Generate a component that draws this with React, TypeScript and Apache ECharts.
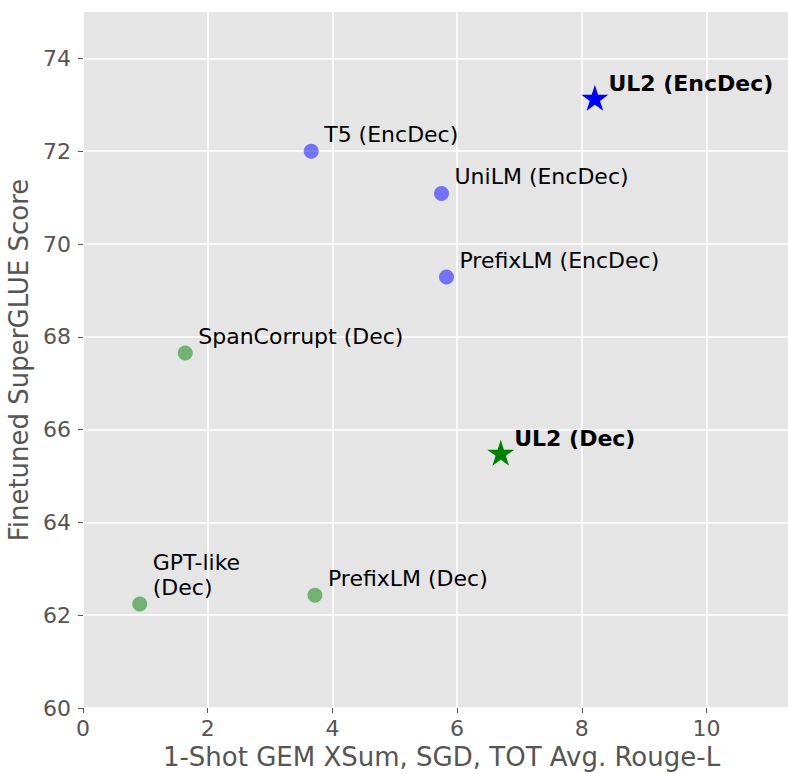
import React, { useEffect, useRef } from "react";
import * as echarts from "echarts";

// Encoder-decoder baselines (blue dots)
const encDecNames = ["T5 (EncDec)", "UniLM (EncDec)", "PrefixLM (EncDec)"];
const encDecX = [3.66, 5.75, 5.83];
const encDecY = [72.0, 71.09, 69.29];

// Decoder-only baselines (green dots)
const decNames = ["SpanCorrupt (Dec)", "GPT-like\n(Dec)", "PrefixLM (Dec)"];
const decX = [1.64, 0.91, 3.72];
const decY = [67.65, 62.24, 62.43];

// UL2 stars
const ul2EncDecName = "UL2 (EncDec)";
const ul2EncDec = [8.21, 73.12];
const ul2DecName = "UL2 (Dec)";
const ul2Dec = [6.7, 65.47];

const xTicks = [0, 2, 4, 6, 8, 10];
const yTicks = [60, 62, 64, 66, 68, 70, 72, 74];

const FONT = "DejaVu Sans";
const STAR =
  "path://M0,-100L22.45,-30.9L95.11,-30.9L36.33,11.8L58.78,80.9L0,38.2L-58.78,80.9L-36.33,11.8L-95.11,-30.9L-22.45,-30.9Z";

export default function App() {
  const ref = useRef<HTMLDivElement>(null);

  useEffect(() => {
    if (!ref.current) return;
    const chart = echarts.init(ref.current, undefined, { renderer: "svg" });

    const dotLabel = {
      show: true,
      formatter: "{b}",
      position: [20.5, 3.5],
      align: "left",
      verticalAlign: "bottom",
      fontFamily: FONT,
      fontSize: 22,
      lineHeight: 25,
      color: "#000",
    };
    const starLabel = {
      show: true,
      formatter: "{b}",
      position: [27, 11],
      align: "left",
      verticalAlign: "bottom",
      fontFamily: FONT,
      fontSize: 22,
      lineHeight: 25,
      fontWeight: "bold",
      color: "#000",
    };

    const axisCommon = {
      type: "value",
      nameLocation: "middle",
      nameTextStyle: { fontFamily: FONT, fontSize: 26, color: "#555555" },
      axisLine: { show: false },
      splitLine: { show: true, lineStyle: { color: "#ffffff", width: 1.5 } },
    };

    const option: any = {
      animation: false,
      backgroundColor: "#fff",
      grid: {
        left: 83,
        top: 12,
        right: 0,
        bottom: 66,
        show: true,
        backgroundColor: "#E5E5E5",
        borderWidth: 0,
        containLabel: false,
        outerBoundsMode: "none",
      },
      xAxis: {
        ...axisCommon,
        min: 0,
        max: 11.5,
        interval: 2,
        name: "1-Shot GEM XSum, SGD, TOT Avg. Rouge-L",
        nameGap: 36,
        axisTick: { show: true, length: 5, customValues: xTicks, lineStyle: { color: "#555555" } },
        axisLabel: {
          fontFamily: FONT,
          fontSize: 22,
          color: "#555555",
          margin: 9,
          customValues: xTicks,
          formatter: (v: number) => String(v),
        },
      },
      yAxis: {
        ...axisCommon,
        min: 60,
        max: 75,
        interval: 2,
        name: "Finetuned SuperGLUE Score",
        nameGap: 41,
        axisTick: { show: true, length: 5, customValues: yTicks, lineStyle: { color: "#555555" } },
        axisLabel: {
          fontFamily: FONT,
          fontSize: 22,
          color: "#555555",
          margin: 12,
          customValues: yTicks,
          formatter: (v: number) => String(v),
        },
      },
      series: [
        {
          type: "scatter",
          symbol: "circle",
          symbolSize: 15,
          itemStyle: { color: "rgba(0,0,255,0.5)", opacity: 1 },
          label: dotLabel,
          data: encDecNames.map((n, i) => ({ name: n, value: [encDecX[i], encDecY[i]] })),
        },
        {
          type: "scatter",
          symbol: "circle",
          symbolSize: 15,
          itemStyle: { color: "rgba(0,128,0,0.5)", opacity: 1 },
          label: dotLabel,
          data: decNames.map((n, i) => ({ name: n, value: [decX[i], decY[i]] })),
        },
        {
          type: "scatter",
          symbol: STAR,
          symbolSize: [27, 26],
          symbolOffset: [0, -1.4],
          itemStyle: { color: "#0000ff", opacity: 1 },
          label: starLabel,
          data: [{ name: ul2EncDecName, value: ul2EncDec }],
        },
        {
          type: "scatter",
          symbol: STAR,
          symbolSize: [27, 26],
          symbolOffset: [0, -1.4],
          itemStyle: { color: "#008000", opacity: 1 },
          label: starLabel,
          data: [{ name: ul2DecName, value: ul2Dec }],
        },
      ],
    };

    chart.setOption(option);
    return () => chart.dispose();
  }, []);

  return (
    <div
      style={{
        position: "fixed",
        left: 0,
        top: 0,
        width: 788,
        height: 774,
        overflow: "hidden",
        background: "#fff",
      }}
    >
      <div ref={ref} style={{ width: 800, height: 774 }} />
    </div>
  );
}
